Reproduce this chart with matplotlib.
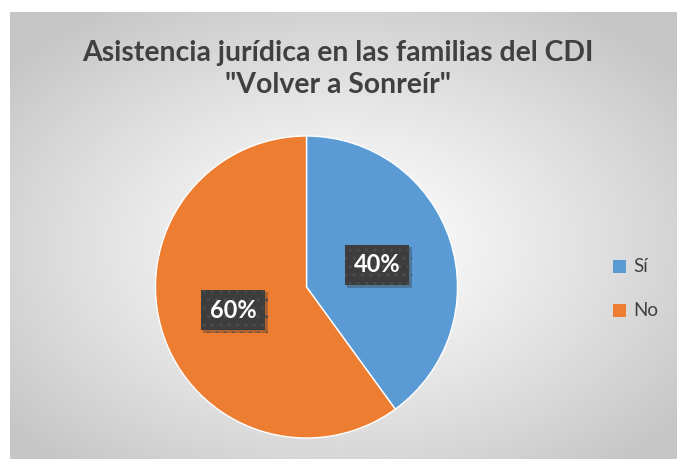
import numpy as np
import matplotlib
matplotlib.use("Agg")
import matplotlib.pyplot as plt
from matplotlib.patches import Rectangle
import matplotlib.patheffects as pe

categories = ["Sí", "No"]
values = [40, 60]
colors = ["#5B9BD5", "#ED7D31"]
title = "Asistencia jurídica en las familias del CDI\n\"Volver a Sonreír\""

W, H = 677, 459
fig = plt.figure(figsize=(W / 100, H / 100), dpi=100)
fig.patch.set_facecolor("white")

# background gradient panel
bg = fig.add_axes([10 / W, 0, (W - 10) / W, (H - 12) / H])
ny, nx = 447, 667
yy, xx = np.mgrid[0:ny, 0:nx]
cx, cy = 330, 447 - 235
d = np.sqrt(((xx - cx) / nx) ** 2 + ((yy - cy) / ny) ** 2)
d = d / d.max()
val = 1.0 - 0.22 * np.clip(d * 1.15, 0, 1) ** 1.2
img = np.dstack([val, val, val])
bg.imshow(img, aspect="auto", extent=[0, 1, 0, 1], origin="lower")
bg.set_axis_off()

fig.text(338 / W, 1 - 69 / H, title, ha="center", va="center",
         fontsize=20.4, fontweight="bold", color="#404040",
         family="Lato", linespacing=1.28)

# pie axes
cxp, cyp, r = 306.5, 287, 151
ax = fig.add_axes([(cxp - r) / W, 1 - (cyp + r) / H, 2 * r / W, 2 * r / H])
wedges, _ = ax.pie(values, colors=colors, startangle=90, counterclock=False,
                   wedgeprops=dict(edgecolor="white", linewidth=1))
ax.set_aspect("equal")
ax.set_xlim(-1, 1)
ax.set_ylim(-1, 1)

label_pos = [(377, 265), (233, 310)]
for v, (lx, ly) in zip(values, label_pos):
    t = fig.text(lx / W, 1 - ly / H, f"{v}%", ha="center", va="center",
                 fontsize=17, fontweight="bold", color="white", family="Lato",
                 bbox=dict(boxstyle="square,pad=0.38", facecolor="#3d3d3d",
                           edgecolor="#4c4c4c", hatch="..", linewidth=0))
    t.get_bbox_patch().set_path_effects(
        [pe.SimplePatchShadow(offset=(2, -2), shadow_rgbFace="#333333", alpha=0.35),
         pe.Normal()])

# legend
for cat, c, ly in zip(categories, colors, [266, 310]):
    fig.patches.append(Rectangle((613 / W, 1 - (ly + 7) / H), 13 / W, 13 / H,
                                 transform=fig.transFigure, facecolor=c,
                                 edgecolor="none"))
    fig.text(633 / W, 1 - ly / H, cat, ha="left", va="center", fontsize=13.5,
             color="#404040", family="Lato")

fig.savefig("out.png", dpi=100)
